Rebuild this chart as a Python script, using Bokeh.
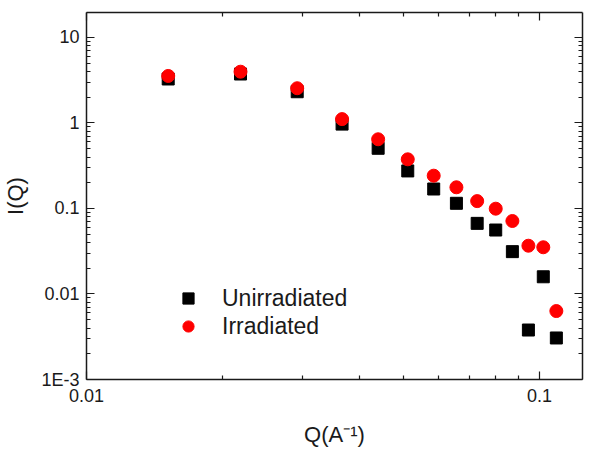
from bokeh.plotting import figure
from bokeh.models import (ColumnDataSource, FixedTicker, LogAxis, Legend,
                          LegendItem, Range1d)
from bokeh.embed import file_html
from bokeh.resources import INLINE

# Scattering vector Q (1/A) and intensity I(Q) for both samples
q = [0.01515, 0.02188, 0.02919, 0.03667, 0.04405, 0.05121, 0.05843,
     0.06558, 0.07288, 0.08009, 0.08717, 0.09456, 0.1020, 0.1090]
i_unirradiated = [3.27, 3.74, 2.32, 0.97, 0.506, 0.275, 0.169,
                  0.115, 0.067, 0.056, 0.0313, 0.00379, 0.0159, 0.00306]
i_irradiated = [3.55, 3.98, 2.55, 1.11, 0.645, 0.376, 0.242,
                0.177, 0.122, 0.0995, 0.0714, 0.0367, 0.0352, 0.00632]

series_names = ["Unirradiated", "Irradiated"]

x_major = [0.01, 0.1]
x_major_labels = ["0.01", "0.1"]
y_major = [1e-3, 1e-2, 1e-1, 1.0, 10.0]
y_major_labels = ["1E-3", "0.01", "0.1", "1", "10"]

FONT = "Liberation Sans"
INK = "#1a1a1a"


def decade_minors(majors):
    return [m * k for m in majors for k in range(2, 10)]


x_ticker = FixedTicker(ticks=x_major, minor_ticks=decade_minors(x_major))
y_ticker = FixedTicker(ticks=y_major, minor_ticks=decade_minors([1e-4] + y_major))

src = ColumnDataSource(data=dict(q=q, unirr=i_unirradiated, irr=i_irradiated))

p = figure(width=595, height=452, x_axis_type="log", y_axis_type="log",
           x_range=Range1d(0.01, 0.1245), y_range=Range1d(1e-3, 19.6),
           output_backend="svg", toolbar_location=None,
           min_border_left=86, min_border_right=13,
           min_border_top=12, min_border_bottom=73)
p.grid.visible = False
p.outline_line_color = None
p.background_fill_color = "white"
p.border_fill_color = "white"

r_sq = p.scatter("q", "unirr", source=src, marker="square", size=12,
                 fill_color="black", line_color="black")
r_ci = p.scatter("q", "irr", source=src, marker="circle", size=13,
                 fill_color="#ff0000", line_color="#ff0000")


def style_axis(ax, ticker, labels, show_labels=True):
    ax.ticker = ticker
    ax.axis_line_color = INK
    ax.axis_line_width = 1.5
    ax.major_tick_line_color = INK
    ax.minor_tick_line_color = INK
    ax.major_tick_line_width = 1.2
    ax.minor_tick_line_width = 1.2
    ax.major_tick_in = 8
    ax.major_tick_out = 0
    ax.minor_tick_in = 4
    ax.minor_tick_out = 0
    ax.major_label_text_font = FONT
    ax.major_label_text_font_size = "18px"
    ax.major_label_text_color = INK
    ax.axis_label_text_font = FONT
    ax.axis_label_text_font_size = "22px"
    ax.axis_label_text_font_style = "normal"
    ax.axis_label_text_color = INK
    if show_labels:
        ax.major_label_overrides = dict(zip(ticker.ticks, labels))
    else:
        ax.major_label_overrides = {t: "" for t in ticker.ticks}


xb = p.xaxis[0]
yl = p.yaxis[0]
style_axis(xb, x_ticker, x_major_labels)
style_axis(yl, y_ticker, y_major_labels)
xb.axis_label = "Q(A\u207b\u00b9)"
yl.axis_label = "I(Q)"
xb.major_label_standoff = 9
yl.major_label_standoff = 7
xb.axis_label_standoff = 17
yl.axis_label_standoff = 10

xt = LogAxis()
yr = LogAxis()
style_axis(xt, x_ticker, x_major_labels, show_labels=False)
style_axis(yr, y_ticker, y_major_labels, show_labels=False)
p.add_layout(xt, "above")
p.add_layout(yr, "right")

legend = Legend(
    items=[LegendItem(label=series_names[0], renderers=[r_sq]),
           LegendItem(label=series_names[1], renderers=[r_ci])],
    location=(87, 39), glyph_width=30, glyph_height=28, spacing=0,
    padding=0, margin=0, label_standoff=19, label_height=28,
    border_line_color=None, background_fill_alpha=0,
    label_text_font=FONT, label_text_font_size="23px",
    label_text_color=INK)
p.add_layout(legend)

open("out.html", "w").write(file_html(p, INLINE))
